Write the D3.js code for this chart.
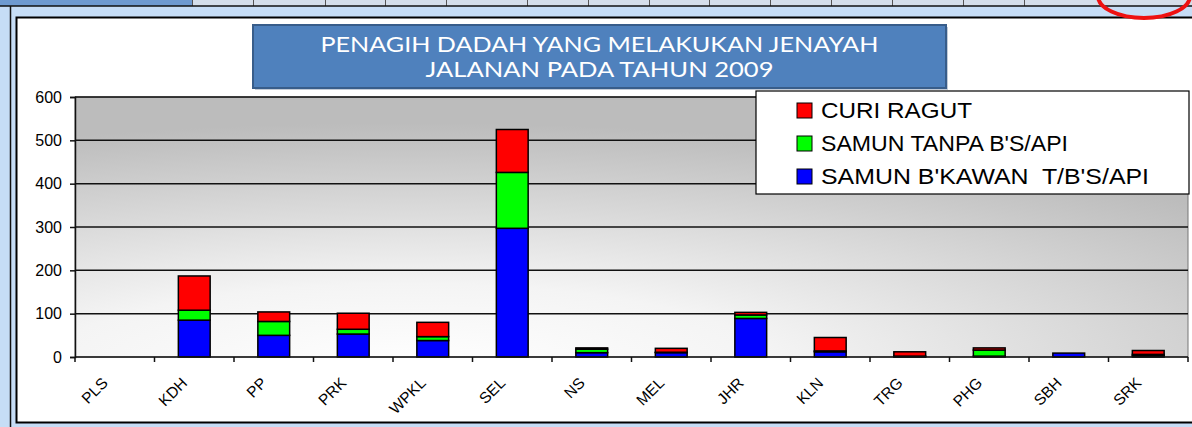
<!DOCTYPE html>
<html>
<head>
<meta charset="utf-8">
<script src="https://cdn.jsdelivr.net/npm/d3@7"></script>
<style>
  body { margin: 0; background: #c6ddf6; }
  svg { display: block; }
  .ax text { font-family: "Liberation Sans", Arial, sans-serif; fill: #000; }
</style>
</head>
<body>
<svg id="chart" width="1192" height="427"></svg>
<script>
const categories = ["PLS", "KDH", "PP", "PRK", "WPKL", "SEL", "NS", "MEL", "JHR", "KLN", "TRG", "PHG", "SBH", "SRK"];
const samunBKawan = [0, 85, 50, 53, 38, 297, 10, 10, 89, 12, 1, 2, 9, 3];
const samunTanpa = [0, 23, 32, 11, 9, 129, 8, 1, 8, 2, 1, 14, 0, 3];
const curiRagut = [0, 79, 22, 37, 33, 99, 3, 9, 6, 31, 10, 5, 0, 9];
const seriesNames = ["SAMUN B'KAWAN  T/B'S/API", "SAMUN TANPA B'S/API", "CURI RAGUT"];
const seriesColors = ["#0000ff", "#00ff00", "#ff0000"];
const yTicks = [0, 100, 200, 300, 400, 500, 600];
const titleLines = ["PENAGIH DADAH YANG MELAKUKAN JENAYAH", "JALANAN PADA TAHUN 2009"];

const svg = d3.select("#chart");

// spreadsheet bits around the chart object
const cellEdges = [0, 192, 253, 325, 385, 446, 527, 588, 649, 709, 770, 831, 892, 963, 1024, 1192];
svg.append("rect").attr("x", 0).attr("y", 0).attr("width", 1192).attr("height", 6).attr("fill", "#d4deea");
svg.append("rect").attr("x", 0).attr("y", 0).attr("width", 192).attr("height", 6).attr("fill", "#6e9ad0");
svg.selectAll(".cell").data(cellEdges.slice(1, -1)).enter().append("line")
  .attr("x1", d => d + 0.5).attr("x2", d => d + 0.5).attr("y1", 0).attr("y2", 6)
  .attr("stroke", "#555").attr("stroke-width", 1);
svg.append("line").attr("x1", 0).attr("x2", 1192).attr("y1", 6).attr("y2", 6).attr("stroke", "#111").attr("stroke-width", 1.5);
svg.append("line").attr("x1", 10.5).attr("x2", 10.5).attr("y1", 6).attr("y2", 427).attr("stroke", "#111").attr("stroke-width", 1.5);

// chart frame
svg.append("rect").attr("x", 16.5).attr("y", 17.5).attr("width", 1180).attr("height", 405)
  .attr("fill", "#fff").attr("stroke", "#000").attr("stroke-width", 2);

const margin = { left: 75, right: 1188, top: 97, bottom: 357 };

const x = d3.scaleBand().domain(categories).range([margin.left, margin.right]).padding(0);
const y = d3.scaleLinear().domain([0, 600]).range([margin.bottom, margin.top]);

const defs = svg.append("defs");
const grad = defs.append("radialGradient").attr("id", "bg")
  .attr("cx", 0.3).attr("cy", 1.05).attr("r", 0.95).attr("fx", 0.3).attr("fy", 1.05);
grad.append("stop").attr("offset", 0).attr("stop-color", "#ffffff");
grad.append("stop").attr("offset", 0.35).attr("stop-color", "#f4f4f4");
grad.append("stop").attr("offset", 1).attr("stop-color", "#bcbcbc");

svg.append("rect").attr("x", margin.left).attr("y", margin.top)
  .attr("width", margin.right - margin.left).attr("height", margin.bottom - margin.top)
  .attr("fill", "url(#bg)").attr("stroke", "#777").attr("stroke-width", 1);

// gridlines
svg.append("g").attr("class", "grid")
  .selectAll("line").data(yTicks.slice(1)).enter().append("line")
  .attr("x1", margin.left).attr("x2", margin.right)
  .attr("y1", d => y(d)).attr("y2", d => y(d))
  .attr("stroke", "#111").attr("stroke-width", 1.5);

// stacked bars
const rows = categories.map((c, i) => ({ cat: c, s0: samunBKawan[i], s1: samunTanpa[i], s2: curiRagut[i] }));
const stack = d3.stack().keys(["s0", "s1", "s2"]);
const layers = stack(rows);
const bw = x.bandwidth();

svg.append("g").selectAll("g").data(layers).enter().append("g")
  .attr("fill", (d, i) => seriesColors[i])
  .selectAll("rect").data(d => d).enter().append("rect")
  .attr("x", d => x(d.data.cat) + bw * 0.3)
  .attr("width", bw * 0.4)
  .attr("y", d => y(d[1]))
  .attr("height", d => y(d[0]) - y(d[1]))
  .attr("stroke", d => (d[1] - d[0]) > 0 ? "#000" : "none")
  .attr("stroke-width", 1.5);

// y axis
const yAxis = svg.append("g").attr("class", "ax")
  .attr("transform", `translate(${margin.left},0)`)
  .call(d3.axisLeft(y).tickValues(yTicks).tickSize(5).tickPadding(8));
yAxis.selectAll("text").style("font-size", "16px");
yAxis.selectAll("line, path").attr("stroke", "#111").attr("stroke-width", 1.5);

// x axis: ticks at band boundaries
const xAxisG = svg.append("g").attr("class", "ax");
xAxisG.append("line").attr("x1", margin.left).attr("x2", margin.right)
  .attr("y1", margin.bottom).attr("y2", margin.bottom).attr("stroke", "#111").attr("stroke-width", 1.5);
xAxisG.selectAll(".tk").data(categories.concat(["_end"])).enter().append("line")
  .attr("x1", d => d === "_end" ? margin.right : x(d))
  .attr("x2", d => d === "_end" ? margin.right : x(d))
  .attr("y1", margin.bottom).attr("y2", margin.bottom + 5)
  .attr("stroke", "#111").attr("stroke-width", 1.5);
xAxisG.selectAll(".lbl").data(categories).enter().append("text")
  .attr("transform", d => `translate(${x(d) + bw / 2 - 6},${margin.bottom + 27}) rotate(-45)`)
  .attr("text-anchor", "end")
  .style("font-size", "15.5px")
  .text(d => d);

// title box
const tb = svg.append("g");
tb.append("rect").attr("x", 255).attr("y", 27).attr("width", 693).attr("height", 63).attr("fill", "#9aa9bd").attr("opacity", 0.6);
tb.append("rect").attr("x", 253).attr("y", 25).attr("width", 693).attr("height", 63)
  .attr("fill", "#4f81bd").attr("stroke", "#385d8a").attr("stroke-width", 2);
const titleWidths = [558, 348];
tb.selectAll("text").data(titleLines).enter().append("text")
  .attr("x", 599.5).attr("y", (d, i) => 52 + i * 25)
  .attr("text-anchor", "middle")
  .attr("fill", "#fff")
  .attr("textLength", (d, i) => titleWidths[i])
  .attr("lengthAdjust", "spacingAndGlyphs")
  .style("font-family", "Lato, 'Open Sans', sans-serif")
  .style("font-size", "21px")
  .text(d => d);

// legend
const lg = svg.append("g");
lg.append("rect").attr("x", 756).attr("y", 91).attr("width", 433).attr("height", 103)
  .attr("fill", "#fff").attr("stroke", "#000").attr("stroke-width", 1.2);
const legendOrder = [2, 1, 0];
const legendWidths = [151, 247, 328];
const items = lg.selectAll(".it").data(legendOrder).enter().append("g")
  .attr("transform", (d, i) => `translate(797,${118 + i * 33})`);
items.append("rect").attr("x", 0).attr("y", -15).attr("width", 15).attr("height", 15)
  .attr("fill", d => seriesColors[d]).attr("stroke", "#000").attr("stroke-width", 1);
items.append("text").attr("x", 24).attr("y", 0)
  .attr("textLength", (d, i) => legendWidths[i])
  .attr("lengthAdjust", "spacingAndGlyphs")
  .style("white-space", "pre")
  .style("font-family", "'Liberation Sans', Arial, sans-serif")
  .style("font-size", "22px")
  .text(d => seriesNames[d]);

// red annotation circle
svg.append("ellipse").attr("cx", 1144).attr("cy", -4).attr("rx", 46).attr("ry", 22)
  .attr("fill", "none").attr("stroke", "#ee1111").attr("stroke-width", 4);
</script>
</body>
</html>
